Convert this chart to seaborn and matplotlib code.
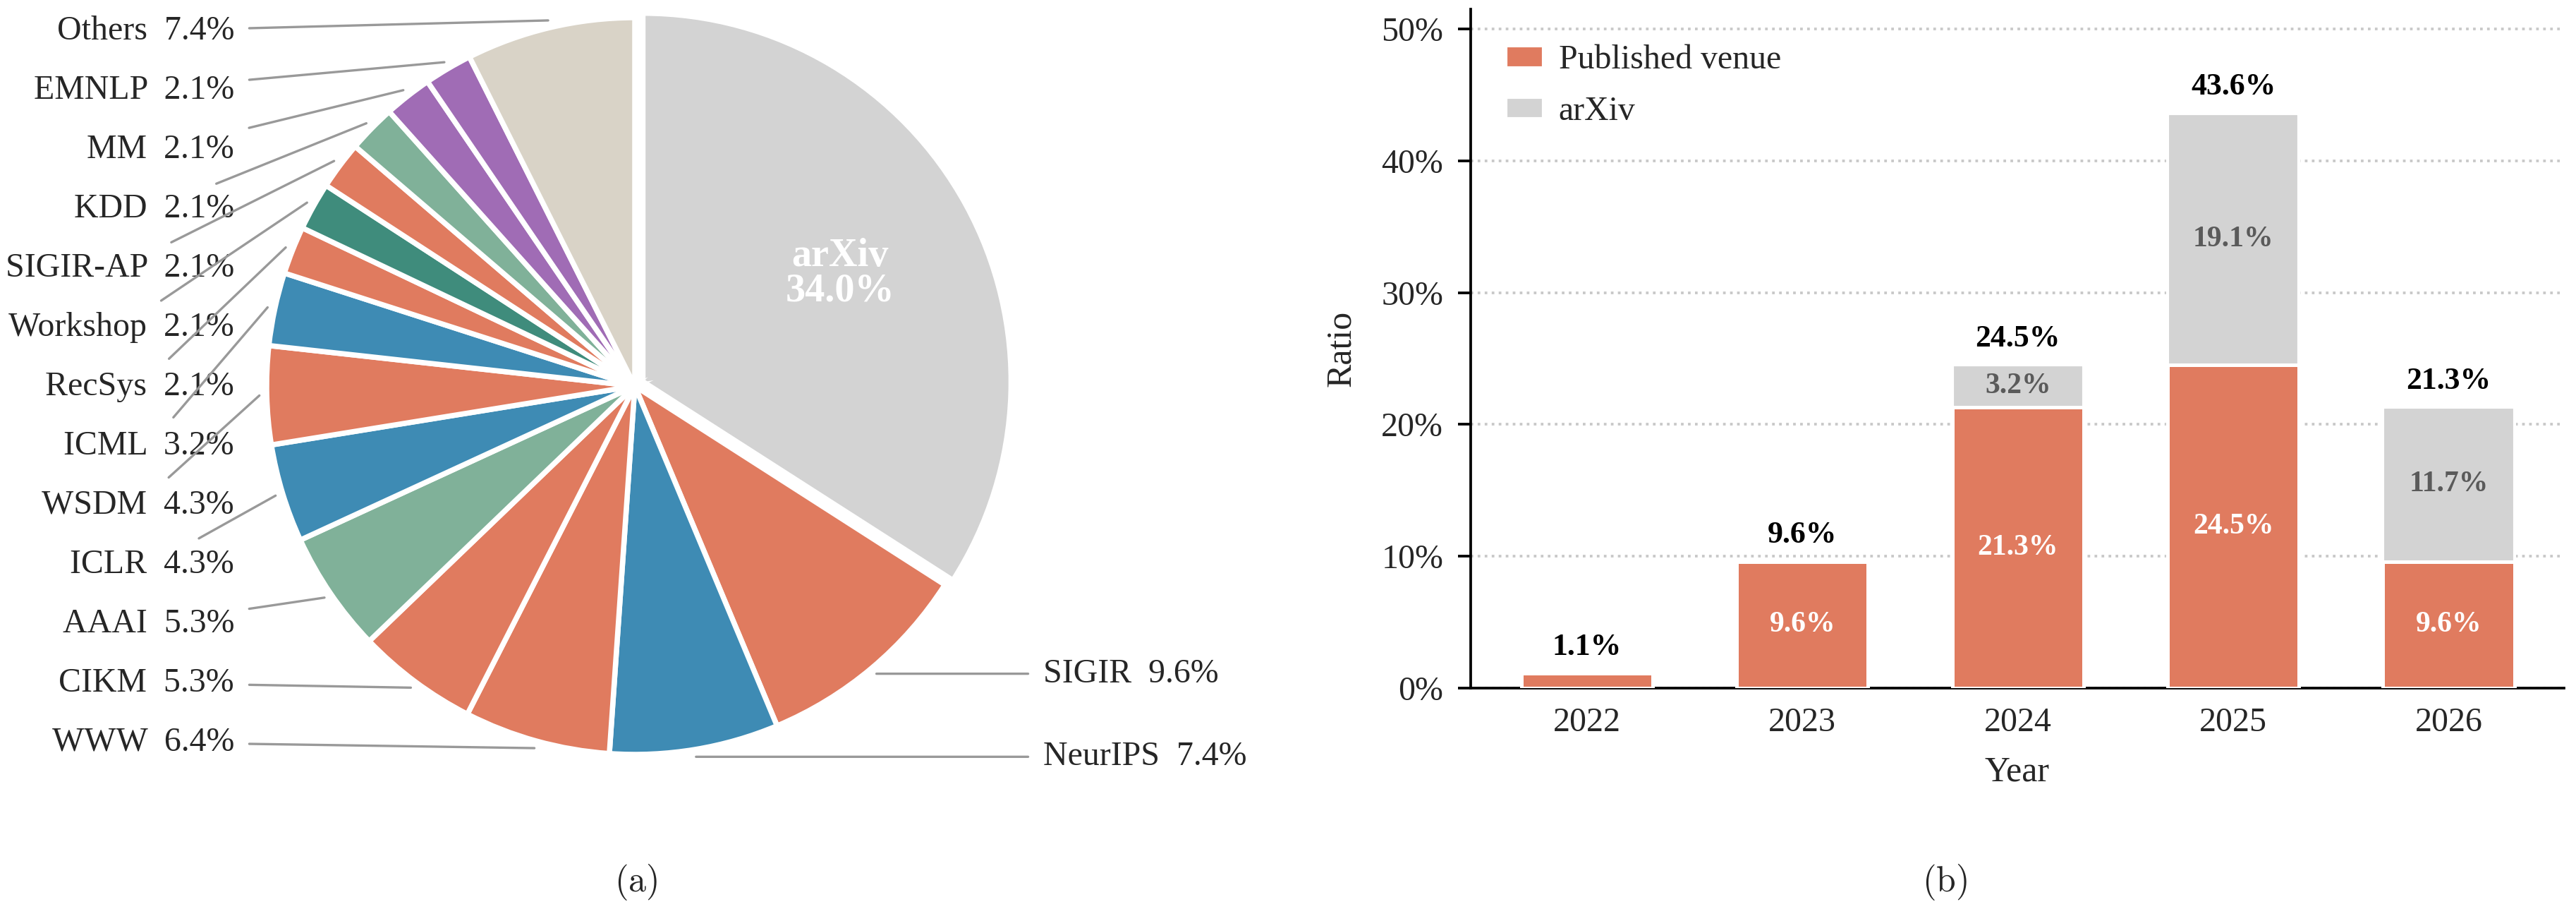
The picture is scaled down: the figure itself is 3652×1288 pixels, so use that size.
import numpy as np
import pandas as pd
import matplotlib
matplotlib.use("Agg")
import matplotlib.pyplot as plt
from matplotlib.patches import Patch
from matplotlib.ticker import PercentFormatter
import seaborn as sns

# ---------------- data ----------------
venues = ["arXiv", "SIGIR", "NeurIPS", "WWW", "CIKM", "AAAI", "ICLR", "WSDM",
          "ICML", "RecSys", "Workshop", "SIGIR-AP", "KDD", "MM", "EMNLP", "Others"]
venue_pct = [34.0, 9.6, 7.4, 6.4, 5.3, 5.3, 4.3, 4.3,
             3.2, 2.1, 2.1, 2.1, 2.1, 2.1, 2.1, 7.4]

years = ["2022", "2023", "2024", "2025", "2026"]
published = [1.1, 9.6, 21.3, 24.5, 9.6]
arxiv = [0.0, 0.0, 3.2, 19.1, 11.7]

# ---------------- style ----------------
ORANGE = "#E07B5F"
BLUE = "#3E8BB4"
GREEN = "#80B199"
TEAL = "#3F8C7C"
PURPLE = "#A06CB5"
BEIGE = "#D9D3C7"
GRAY = "#D3D3D3"
venue_colors = [GRAY, ORANGE, BLUE, ORANGE, ORANGE, GREEN, BLUE, ORANGE,
                BLUE, ORANGE, TEAL, ORANGE, GREEN, PURPLE, PURPLE, BEIGE]

sns.set_theme(style="ticks")
plt.rcParams["font.family"] = ["Liberation Serif", "DejaVu Serif"]
plt.rcParams["mathtext.fontset"] = "cm"

W, H, DPI = 3653, 1288, 300
fig = plt.figure(figsize=(W / DPI, H / DPI), dpi=DPI)

# ---------------- (a) pie ----------------
cx, cy, R = 900, 547, 522  # pixel geometry of the pie
axp = fig.add_axes([0, 0, 1800 / W, 1])
explode = [0.025] + [0] * (len(venues) - 1)
wedges, _ = axp.pie(venue_pct, colors=venue_colors, startangle=90, counterclock=False,
                    explode=explode, radius=1.0,
                    wedgeprops=dict(edgecolor="white", linewidth=1.8))
axp.set_xlim(-cx / R, (1800 - cx) / R)
axp.set_ylim((cy - H) / R, cy / R)
axp.set_aspect("equal", adjustable="datalim")
axp.axis("off")

LINE_KW = dict(arrowstyle="-", color="#999999", lw=0.8, shrinkA=3, shrinkB=0)
FS = 11.5

def mid(w):
    a = np.deg2rad((w.theta1 + w.theta2) / 2)
    return np.cos(a), np.sin(a)

# arXiv inside label
ca, sa = mid(wedges[0])
axp.text(0.635 * ca, 0.635 * sa,
         f"{venues[0]}\n{venue_pct[0]:.1f}%", color="white", fontsize=13.5,
         fontweight="bold", ha="center", va="center", linespacing=0.95)

# right labels (SIGIR, NeurIPS)
for i in [1, 2]:
    c, s = mid(wedges[i])
    xy = (1.02 * c, 1.02 * s)
    axp.annotate(f"{venues[i]}  {venue_pct[i]:.1f}%", xy=xy, xytext=(1.109, xy[1]),
                 ha="left", va="center", fontsize=FS, arrowprops=LINE_KW)

# left labels, evenly stacked from top (Others) to bottom (WWW)
left_idx = list(range(len(venues) - 1, 2, -1))
ys = np.linspace(0.964, -0.967, len(left_idx))
for yv, i in zip(ys, left_idx):
    c, s = mid(wedges[i])
    xy = (1.02 * c, 1.02 * s)
    axp.annotate(f"{venues[i]}  {venue_pct[i]:.1f}%", xy=xy, xytext=(-1.088, yv),
                 ha="right", va="center", fontsize=FS, arrowprops=LINE_KW)

fig.text(902 / W, 1 - 1250 / H, r"$\mathrm{(a)}$", ha="center", va="center", fontsize=12)

# ---------------- (b) stacked bars ----------------
df = pd.DataFrame({"year": years, "published": published, "arxiv": arxiv})
df["total"] = df["published"] + df["arxiv"]

axb = fig.add_axes([2085 / W, (H - 975) / H, 1550 / W, (975 - 13) / H])
sns.barplot(data=df, x="year", y="total", color=GRAY, saturation=1, width=0.61,
            errorbar=None, ax=axb, zorder=2)
sns.barplot(data=df, x="year", y="published", color=ORANGE, saturation=1, width=0.61,
            errorbar=None, ax=axb, zorder=3, edgecolor="white", linewidth=1.2)

axb.set_xlim(-0.54, 4.535)
axb.set_ylim(0, 51.5)
axb.set_yticks([0, 10, 20, 30, 40, 50])
axb.yaxis.set_major_formatter(PercentFormatter(xmax=100, decimals=0))
axb.set_axisbelow(True)
axb.yaxis.grid(True, linestyle=":", color="#c8c8c8", linewidth=0.9)
axb.xaxis.grid(False)
for side in ["top", "right"]:
    axb.spines[side].set_visible(False)
for side in ["left", "bottom"]:
    axb.spines[side].set_color("black")
    axb.spines[side].set_linewidth(0.9)
axb.tick_params(axis="y", length=4.3, width=0.9, pad=5, labelsize=FS, color="black")
axb.tick_params(axis="x", length=0, pad=6.5, labelsize=FS)
axb.set_xlabel("Year", fontsize=12, labelpad=6)
axb.set_ylabel("Ratio", fontsize=12, labelpad=8)

for i, (p, a) in enumerate(zip(published, arxiv)):
    tot = p + a
    if p >= 3:
        axb.text(i, p / 2, f"{p:.1f}%", color="white", fontsize=10, fontweight="bold",
                 ha="center", va="center", zorder=5)
    if a > 0:
        axb.text(i, p + a / 2, f"{a:.1f}%", color="#5a5a5a", fontsize=10,
                 fontweight="bold", ha="center", va="center", zorder=5)
    axb.text(i, tot + 2.0, f"{tot:.1f}%", color="black", fontsize=10.5,
             fontweight="bold", ha="center", va="center", zorder=5)

handles = [Patch(facecolor=ORANGE, label="Published venue"),
           Patch(facecolor=GRAY, label="arXiv")]
axb.legend(handles=handles, loc="upper left", frameon=False, fontsize=FS,
           handlelength=1.1, handleheight=0.6, handletextpad=0.45,
           borderaxespad=0.65, labelspacing=0.6)

fig.text(2757 / W, 1 - 1250 / H, r"$\mathrm{(b)}$", ha="center", va="center", fontsize=12)

fig.savefig("out.png", dpi=DPI, facecolor="white")
